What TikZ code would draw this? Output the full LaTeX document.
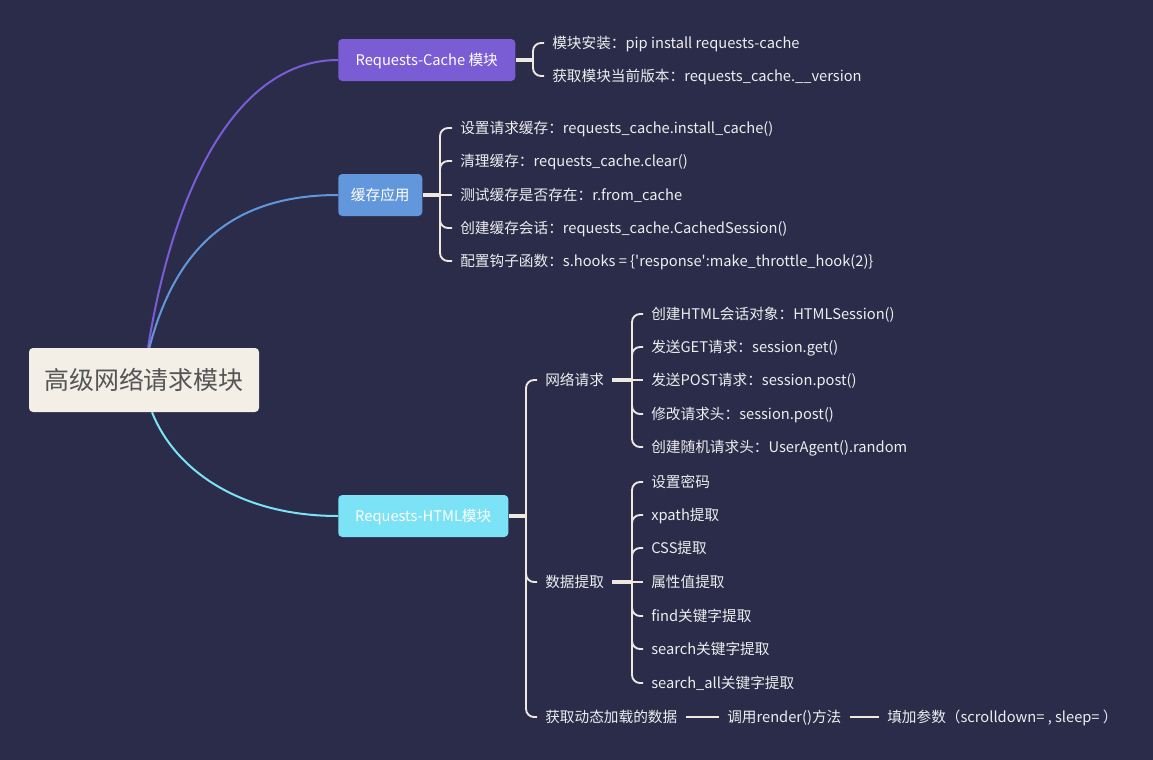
\documentclass[tikz,border=0pt]{standalone}
\usepackage{fontspec}
\setmainfont{Noto Sans CJK SC}[Ligatures=TeXOff]
\definecolor{bgnavy}{HTML}{2A2C4A}
\definecolor{rootfill}{HTML}{F3EFE7}
\definecolor{roottext}{HTML}{555555}
\definecolor{cachecol}{HTML}{7A5CD4}
\definecolor{usecol}{HTML}{6297DC}
\definecolor{htmlcol}{HTML}{7CE2F5}
\definecolor{linecol}{HTML}{EEE8DE}
\definecolor{leaftext}{HTML}{EEEEEE}
\tikzset{
  rootbox/.style={fill=rootfill, text=roottext, rounded corners=3pt,
    minimum width=172.5pt, minimum height=48pt, font=\fontsize{18.7}{22}\selectfont},
  topic/.style={anchor=west, text=white, rounded corners=3pt, inner xsep=9pt,
    minimum height=31.5pt, text height=8.8pt, text depth=1.2pt, font=\fontsize{11}{13}\selectfont},
  leaf/.style={anchor=west, text=leaftext, inner xsep=6pt, inner ysep=1pt,
    text height=8.8pt, text depth=1.2pt, font=\fontsize{11}{13}\selectfont},
  branch/.style={line width=1.5pt},
  stub/.style={draw=linecol, line width=2.3pt},
  brace/.style={draw=linecol, line width=1.4pt, rounded corners=6pt},
}
\begin{document}
\begin{tikzpicture}[x=0.75pt,y=-0.75pt]
  \fill[bgnavy] (0,0) rectangle (1153,760);
  \node[rootbox] (root) at (144,380) {高级网络请求模块};
  \node[topic, fill=cachecol, minimum width=132.75pt] (cache) at (338,60) {Requests-Cache 模块};
  \node[topic, fill=usecol, minimum width=63pt] (use) at (338,195) {缓存应用};
  \node[topic, fill=htmlcol, minimum width=127.5pt] (html) at (338,516) {Requests-HTML模块};
  % branches from the root
  \draw[branch, cachecol] ([xshift=3pt]root.north) .. controls (175,180) and (240,60) .. (cache.west);
  \draw[branch, usecol] ([xshift=4pt]root.north) .. controls (175,250) and (230,195) .. (use.west);
  \draw[branch, htmlcol] ([xshift=6pt]root.south) .. controls (175,470) and (240,516) .. (html.west);
  % Requests-Cache
  \coordinate (s1) at (533,60);
  \node[leaf] (c1) at (544,43) {模块安装：pip install requests-cache};
  \node[leaf] (c2) at (544,76) {获取模块当前版本：requests\_cache.\_\_version};
  \draw[stub] (cache.east) -- (s1);
  \draw[brace] (s1) |- (c1.west);
  \draw[brace] (s1) |- (c2.west);
  % cache usage
  \coordinate (s2) at (440,195);
  \node[leaf] (a1) at (452,128) {设置请求缓存：requests\_cache.install\_cache()};
  \node[leaf] (a2) at (452,161) {清理缓存：requests\_cache.clear()};
  \node[leaf] (a3) at (452,195) {测试缓存是否存在：r.from\_cache};
  \node[leaf] (a4) at (452,228) {创建缓存会话：requests\_cache.CachedSession()};
  \node[leaf] (a5) at (452,261) {配置钩子函数：s.hooks = \{'response':make\_throttle\_hook(2)\}};
  \draw[stub] (use.east) -- (s2);
  \draw[brace] (s2) |- (a1.west);
  \draw[brace] (s2) |- (a2.west);
  \draw[brace] (s2) -- (a3.west);
  \draw[brace] (s2) |- (a4.west);
  \draw[brace] (s2) |- (a5.west);
  % Requests-HTML
  \coordinate (s3) at (526,516);
  \node[leaf] (h1) at (537,380) {网络请求};
  \node[leaf] (h2) at (537,582) {数据提取};
  \node[leaf] (h3) at (537,717) {获取动态加载的数据};
  \draw[stub] (html.east) -- (s3);
  \draw[brace] (s3) |- (h1.west);
  \draw[brace] (s3) |- (h2.west);
  \draw[brace] (s3) |- (h3.west);
  % network requests
  \coordinate (s4) at (632,380);
  \node[leaf] (n1) at (643,314) {创建HTML会话对象：HTMLSession()};
  \node[leaf] (n2) at (643,347) {发送GET请求：session.get()};
  \node[leaf] (n3) at (643,380) {发送POST请求：session.post()};
  \node[leaf] (n4) at (643,414) {修改请求头：session.post()};
  \node[leaf] (n5) at (643,447) {创建随机请求头：UserAgent().random};
  \draw[stub] (h1.east) -- (s4);
  \draw[brace] (s4) |- (n1.west);
  \draw[brace] (s4) |- (n2.west);
  \draw[brace] (s4) -- (n3.west);
  \draw[brace] (s4) |- (n4.west);
  \draw[brace] (s4) |- (n5.west);
  % data extraction
  \coordinate (s5) at (632,582);
  \node[leaf] (d1) at (643,482) {设置密码};
  \node[leaf] (d2) at (643,515) {xpath提取};
  \node[leaf] (d3) at (643,548) {CSS提取};
  \node[leaf] (d4) at (643,582) {属性值提取};
  \node[leaf] (d5) at (643,616) {find关键字提取};
  \node[leaf] (d6) at (643,649) {search关键字提取};
  \node[leaf] (d7) at (643,683) {search\_all关键字提取};
  \draw[stub] (h2.east) -- (s5);
  \draw[brace] (s5) |- (d1.west);
  \draw[brace] (s5) |- (d2.west);
  \draw[brace] (s5) |- (d3.west);
  \draw[brace] (s5) -- (d4.west);
  \draw[brace] (s5) |- (d5.west);
  \draw[brace] (s5) |- (d6.west);
  \draw[brace] (s5) |- (d7.west);
  % dynamic data
  \node[leaf] (r1) at (719,717) {调用render()方法};
  \node[leaf] (r2) at (879,717) {填加参数（scrolldown= , sleep= ）};
  \draw[brace] (h3.east) -- (r1.west);
  \draw[brace] (r1.east) -- (r2.west);
\end{tikzpicture}
\end{document}
